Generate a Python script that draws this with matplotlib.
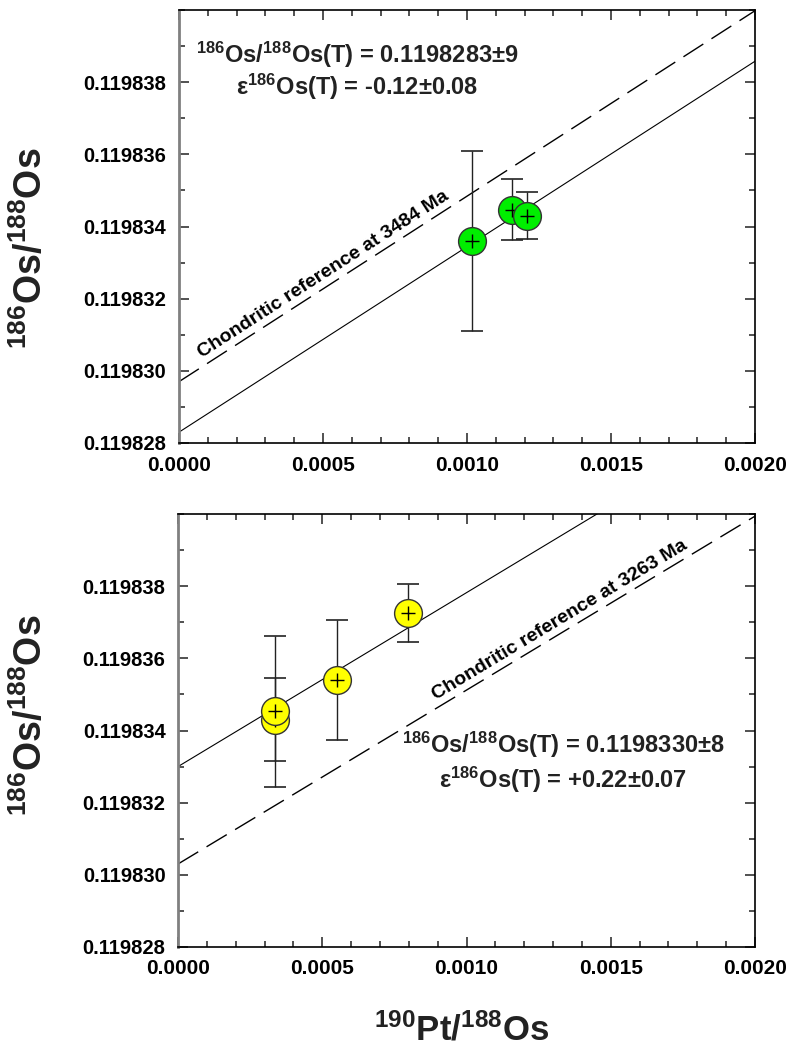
import numpy as np
import matplotlib

matplotlib.use("Agg")
import matplotlib.pyplot as plt
from matplotlib import font_manager
from matplotlib.ticker import MultipleLocator, FixedLocator, FormatStrFormatter

# ---- data ----
# upper panel (3484 Ma)
top_pt = [0.001017, 0.001156, 0.001208]
top_os = [0.1198336, 0.11983447, 0.1198343]
top_err = [0.0000025, 0.00000085, 0.00000065]
top_intercept = 0.1198283
top_slope = 0.00514
top_chon_intercept = 0.1198297
top_chon_slope = 0.00514

# lower panel (3263 Ma)
bot_pt = [0.000336, 0.000336, 0.000551, 0.000797]
bot_os = [0.1198343, 0.11983453, 0.1198354, 0.11983726]
bot_err = [0.00000115, 0.0000021, 0.00000165, 0.0000008]
bot_intercept = 0.119833
bot_slope = 0.00482
bot_chon_intercept = 0.1198303
bot_chon_slope = 0.00482

x_ticks = [0.0, 0.0005, 0.0010, 0.0015, 0.0020]
y_ticks = [0.119828, 0.119830, 0.119832, 0.119834, 0.119836, 0.119838]

names = {f.name for f in font_manager.fontManager.ttflist}
FONT = "Liberation Sans Narrow" if "Liberation Sans Narrow" in names else "Liberation Sans"
plt.rcParams["font.family"] = [FONT, "DejaVu Sans"]
plt.rcParams["font.weight"] = "bold"
plt.rcParams["mathtext.default"] = "regular"

W, H = 790, 1063
fig = plt.figure(figsize=(W / 100, H / 100), dpi=100)
ax_top = fig.add_axes([179 / W, 1 - 443 / H, 576 / W, 433 / H])
ax_bot = fig.add_axes([178 / W, 1 - 947 / H, 577 / W, 433 / H])


def style_axes(ax):
    ax.set_xlim(0, 0.002)
    ax.set_ylim(0.119828, 0.119840)
    ax.xaxis.set_major_locator(FixedLocator(x_ticks))
    ax.xaxis.set_minor_locator(MultipleLocator(0.0001))
    ax.yaxis.set_major_locator(FixedLocator(y_ticks))
    ax.yaxis.set_minor_locator(MultipleLocator(0.000001))
    ax.xaxis.set_major_formatter(FormatStrFormatter("%.4f"))
    ax.yaxis.set_major_formatter(FormatStrFormatter("%.6f"))
    ax.tick_params(which="both", direction="in", top=True, right=True, color="#333333", width=1.2)
    ax.tick_params(which="major", length=7)
    ax.tick_params(which="minor", length=4)
    ax.tick_params(axis="x", pad=9, labelsize=15)
    ax.tick_params(axis="y", pad=9, labelsize=14.5)
    for side in ("top", "right", "bottom"):
        ax.spines[side].set_color("black")
        ax.spines[side].set_linewidth(1.2)
    ax.spines["left"].set_color("#808080")
    ax.spines["left"].set_linewidth(2)


def draw_panel(ax, xs, ys, errs, color, icpt, slope, c_icpt, c_slope, label, label_x):
    style_axes(ax)
    xl = np.array([0.0, 0.002])
    ax.plot(xl, icpt + slope * xl, color="black", lw=0.8, zorder=2)
    ax.plot(xl, c_icpt + c_slope * xl, color="black", lw=1.0, dashes=[17, 7], zorder=2)
    ax.errorbar(xs, ys, yerr=errs, fmt="none", ecolor="#222222", elinewidth=1,
                capsize=8, capthick=1.2, zorder=3)
    for i, (x, y) in enumerate(zip(xs, ys)):
        ax.plot(x, y, "o", ms=20, mfc=color, mec="#333333", mew=1, zorder=4 + 2 * i)
        ax.plot(x, y, "+", ms=10, color="black", mew=1, zorder=5 + 2 * i)

    # text along the chondritic reference line
    p0 = ax.transData.transform((0.0, c_icpt))
    p1 = ax.transData.transform((0.002, c_icpt + c_slope * 0.002))
    ang = np.degrees(np.arctan2(p1[1] - p0[1], p1[0] - p0[0]))
    ax.text(label_x, c_icpt + c_slope * label_x + 0.00000025, label, rotation=ang,
            rotation_mode="anchor", ha="center", va="baseline", fontsize=14,
            fontweight="bold", zorder=6)


draw_panel(ax_top, top_pt, top_os, top_err, "#00ee00", top_intercept, top_slope,
           top_chon_intercept, top_chon_slope, "Chondritic reference at 3484 Ma", 0.00051)
draw_panel(ax_bot, bot_pt, bot_os, bot_err, "#ffff00", bot_intercept, bot_slope,
           bot_chon_intercept, bot_chon_slope, "Chondritic reference at 3263 Ma", 0.00133)

ann = dict(ha="center", va="center", fontsize=17, fontweight="bold", color="#222222")
ax_top.text(0.309, 0.896, r"$^{186}$Os/$^{188}$Os(T) = 0.1198283±9", transform=ax_top.transAxes, **ann)
ax_top.text(0.309, 0.822, r"ε$^{186}$Os(T) = -0.12±0.08", transform=ax_top.transAxes, **ann)
ax_bot.text(0.667, 0.467, r"$^{186}$Os/$^{188}$Os(T) = 0.1198330±8", transform=ax_bot.transAxes, **ann)
ax_bot.text(0.667, 0.386, r"ε$^{186}$Os(T) = +0.22±0.07", transform=ax_bot.transAxes, **ann)

ylab = r"$^{186}$Os/$^{188}$Os"
lab = dict(ha="center", va="center", fontweight="bold", color="#222222")
fig.text(31 / W, 1 - 248 / H, ylab, rotation=90, fontsize=27, **lab)
fig.text(31 / W, 1 - 715 / H, ylab, rotation=90, fontsize=27, **lab)
fig.text(462 / W, 1 - 1030 / H, r"$^{190}$Pt/$^{188}$Os", fontsize=25, **lab)

fig.savefig("out.png", dpi=100)
